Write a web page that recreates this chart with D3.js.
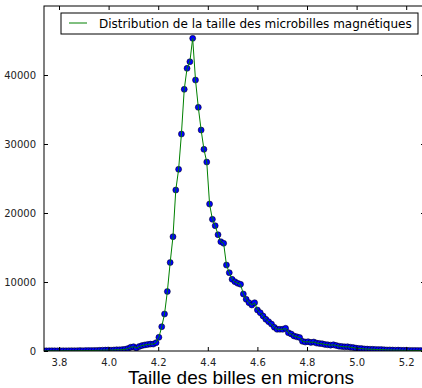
<!DOCTYPE html>
<html>
<head>
<meta charset="utf-8">
<script src="https://cdn.jsdelivr.net/npm/d3@7"></script>
<style>
  html, body { margin: 0; padding: 0; background: #fff; }
  svg { display: block; }
</style>
</head>
<body>
<svg id="chart" width="422" height="388"></svg>
<script>
// Bead size bins (microns)
const sizes = [
  3.7375, 3.7488, 3.7602, 3.7715, 3.7829, 3.7942, 3.8056, 3.8169, 3.8283, 3.8396,
  3.8510, 3.8623, 3.8737, 3.8850, 3.8964, 3.9077, 3.9191, 3.9304, 3.9418, 3.9531,
  3.9645, 3.9758, 3.9872, 3.9985, 4.0099, 4.0212, 4.0326, 4.0439, 4.0553, 4.0666,
  4.0780, 4.0893, 4.1007, 4.1120, 4.1234, 4.1347, 4.1461, 4.1574, 4.1688, 4.1801,
  4.1915, 4.2028, 4.2142, 4.2255, 4.2369, 4.2482, 4.2596, 4.2709, 4.2823, 4.2936,
  4.3050, 4.3163, 4.3277, 4.3390, 4.3504, 4.3617, 4.3731, 4.3844, 4.3958, 4.4071,
  4.4185, 4.4298, 4.4412, 4.4525, 4.4639, 4.4752, 4.4866, 4.4979, 4.5093, 4.5206,
  4.5320, 4.5433, 4.5547, 4.5660, 4.5774, 4.5887, 4.6001, 4.6114, 4.6228, 4.6341,
  4.6455, 4.6568, 4.6682, 4.6795, 4.6909, 4.7022, 4.7136, 4.7249, 4.7363, 4.7476,
  4.7590, 4.7703, 4.7817, 4.7930, 4.8044, 4.8157, 4.8271, 4.8384, 4.8498, 4.8611,
  4.8725, 4.8838, 4.8952, 4.9065, 4.9179, 4.9292, 4.9406, 4.9519, 4.9633, 4.9746,
  4.9860, 4.9973, 5.0087, 5.0200, 5.0314, 5.0427, 5.0541, 5.0654, 5.0768, 5.0881,
  5.0995, 5.1108, 5.1222, 5.1335, 5.1449, 5.1562, 5.1676, 5.1789, 5.1903, 5.2016,
  5.2130, 5.2243, 5.2357, 5.2470, 5.2584, 5.2697
];

// Number of beads counted in each bin
const counts = [
  30, 20, 30, 40, 30, 20, 30, 40, 30, 40,
  50, 40, 50, 60, 50, 60, 70, 60, 80, 90,
  100, 120, 130, 150, 120, 150, 180, 170, 200, 250,
  350, 550, 620, 420, 650, 780, 880, 950, 1000, 1000,
  1200, 1985, 3521, 5361, 8622, 12824, 16562, 23329, 26328, 31443,
  37921, 40963, 41920, 45310, 39268, 35313, 32023, 29226, 27386, 21300,
  19083, 18156, 16852, 15838, 15606, 12461, 11346, 10389, 10042, 9810,
  9665, 8259, 7491, 6999, 6665, 6999, 5941, 5550, 5072, 4593,
  4246, 3900, 3434, 3144, 3150, 3144, 3289, 2652, 2463, 2174,
  2050, 1950, 1400, 1300, 1350, 1250, 1300, 1150, 1100, 1050,
  950, 900, 850, 900, 800, 700, 650, 600, 620, 550,
  500, 420, 380, 350, 300, 280, 260, 250, 230, 200,
  200, 180, 150, 160, 140, 120, 130, 110, 100, 100,
  90, 80, 80, 70, 60, 60
];

const xTicks = [3.8, 4.0, 4.2, 4.4, 4.6, 4.8, 5.0, 5.2];
const yTicks = [0, 10000, 20000, 30000, 40000];

const legendLabel = "Distribution de la taille des microbilles magnétiques";
const xAxisLabel = "Taille des billes en microns";

const points = sizes.map((s, i) => ({ s, c: counts[i] })).filter(d => d.c !== undefined);

const svg = d3.select("#chart");
const plot = { left: 44, right: 425, top: 6, bottom: 351 };

const x = d3.scaleLinear().domain([3.7395, 5.2758]).range([plot.left, plot.right]);
const y = d3.scaleLinear().domain([0, 50000]).range([plot.bottom, plot.top]);

svg.append("rect").attr("width", 422).attr("height", 388).attr("fill", "#fff");

svg.append("defs").append("clipPath").attr("id", "plot-clip")
  .append("rect")
  .attr("x", plot.left).attr("y", plot.top)
  .attr("width", plot.right - plot.left).attr("height", plot.bottom - plot.top);

const data = svg.append("g").attr("clip-path", "url(#plot-clip)");

// blue markers first, green curve drawn over them
data.selectAll("circle").data(points).enter().append("circle")
  .attr("cx", d => x(d.s))
  .attr("cy", d => y(d.c))
  .attr("r", 3)
  .attr("fill", "#0000ff")
  .attr("stroke", "#000")
  .attr("stroke-width", 0.5);

data.append("path")
  .datum(points)
  .attr("fill", "none")
  .attr("stroke", "#008000")
  .attr("stroke-width", 1)
  .attr("d", d3.line().x(d => x(d.s)).y(d => y(d.c)));

// axes: ticks point inward on all four sides
const tickLen = 4;
const fmtX = d3.format(".1f");

const bottomAxis = d3.axisBottom(x).tickValues(xTicks).tickFormat(fmtX).tickSizeInner(-tickLen).tickSizeOuter(0).tickPadding(8);
const topAxis = d3.axisTop(x).tickValues(xTicks).tickFormat("").tickSizeInner(-tickLen).tickSizeOuter(0);
const leftAxis = d3.axisLeft(y).tickValues(yTicks).tickFormat(d3.format("d")).tickSizeInner(-tickLen).tickSizeOuter(0).tickPadding(8);
const rightAxis = d3.axisRight(y).tickValues(yTicks).tickFormat("").tickSizeInner(-tickLen).tickSizeOuter(0);

function styleAxis(g) {
  g.select(".domain").remove();
  g.selectAll(".tick line").attr("stroke", "#000").attr("stroke-width", 1);
  g.selectAll(".tick text")
    .attr("fill", "#222")
    .style("font-family", "'DejaVu Sans', sans-serif")
    .style("font-size", "10px");
}

svg.append("g").attr("transform", `translate(0,${plot.bottom})`).call(bottomAxis).call(styleAxis);
svg.append("g").attr("transform", `translate(0,${plot.top})`).call(topAxis).call(styleAxis);
svg.append("g").attr("transform", `translate(${plot.left},0)`).call(leftAxis).call(styleAxis);
svg.append("g").attr("transform", `translate(${plot.right},0)`).call(rightAxis).call(styleAxis);

// frame
svg.append("rect")
  .attr("x", plot.left).attr("y", plot.top)
  .attr("width", plot.right - plot.left).attr("height", plot.bottom - plot.top)
  .attr("fill", "none").attr("stroke", "#000").attr("stroke-width", 1);

// x axis title
svg.append("text")
  .attr("x", 241).attr("y", 384)
  .attr("text-anchor", "middle")
  .style("font-family", "'Liberation Sans', Arial, sans-serif")
  .style("font-size", "19px")
  .attr("fill", "#000")
  .text(xAxisLabel);

// legend
const legend = svg.append("g");
legend.append("rect")
  .attr("x", 61).attr("y", 13).attr("width", 357).attr("height", 21)
  .attr("fill", "#fff").attr("stroke", "#000").attr("stroke-width", 1);
legend.append("line")
  .attr("x1", 69).attr("x2", 87).attr("y1", 23).attr("y2", 23)
  .attr("stroke", "#008000").attr("stroke-width", 1);
const lt = legend.append("text")
  .attr("x", 99).attr("y", 28)
  .style("font-family", "'DejaVu Sans', sans-serif")
  .style("font-size", "12px")
  .attr("fill", "#000")
  .text(legendLabel);
const w = lt.node().getComputedTextLength();
lt.style("font-size", (12 * 313 / w).toFixed(2) + "px");
</script>
</body>
</html>
